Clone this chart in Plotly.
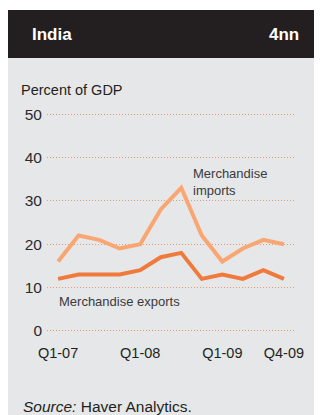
import plotly.graph_objects as go

quarters = ['Q1-07', 'Q2-07', 'Q3-07', 'Q4-07', 'Q1-08', 'Q2-08', 'Q3-08', 'Q4-08',
            'Q1-09', 'Q2-09', 'Q3-09', 'Q4-09']
imports = [16, 22, 21, 19, 20, 28, 33, 22, 16, 19, 21, 20]
exports = [12, 13, 13, 13, 14, 17, 18, 12, 13, 12, 14, 12]
tick_idx = [0, 4, 8, 11]
tick_text = ['Q1-07', 'Q1-08', 'Q1-09', 'Q4-09']

x = list(range(len(quarters)))

fig = go.Figure()
fig.add_trace(go.Scatter(x=x, y=imports, mode='lines', name='Merchandise imports',
                         line=dict(color='#F9A673', width=4), cliponaxis=False))
fig.add_trace(go.Scatter(x=x, y=exports, mode='lines', name='Merchandise exports',
                         line=dict(color='#EF7A3C', width=4), cliponaxis=False))

# page has an 8px body margin; plot area on the page spans px 47..295, 113..332
W, H = 248, 219
def px(p):
    return (p - 47) / W
def py(p):
    return (332 - p) / H

fig.add_shape(type='rect', xref='paper', yref='paper', layer='below',
              x0=px(6), x1=px(340), y0=py(58), y1=py(440),
              fillcolor='#E6E7E9', line_width=0)
fig.add_shape(type='rect', xref='paper', yref='paper', layer='below',
              x0=px(6), x1=px(340), y0=py(10), y1=py(58),
              fillcolor='#231F20', line_width=0)

fig.add_annotation(text='<b>India</b>', xref='paper', yref='paper', x=px(30), y=py(35),
                   xanchor='left', yanchor='middle', showarrow=False,
                   font=dict(size=17, color='white'))
fig.add_annotation(text='<b>4nn</b>', xref='paper', yref='paper', x=px(301), y=py(35),
                   xanchor='right', yanchor='middle', showarrow=False,
                   font=dict(size=17, color='white'))
fig.add_annotation(text='Percent of GDP', xref='paper', yref='paper', x=px(19), y=py(90),
                   xanchor='left', yanchor='middle', showarrow=False,
                   font=dict(size=14.5, color='#231F20'))
fig.add_annotation(text='Merchandise<br>imports', x=6.45, y=34.3,
                   xanchor='left', yanchor='middle', align='left', showarrow=False,
                   font=dict(size=13, color='#3A3A3A'))
fig.add_annotation(text='Merchandise exports', x=-0.05, y=6.7,
                   xanchor='left', yanchor='middle', showarrow=False,
                   font=dict(size=13, color='#3A3A3A'))
fig.add_annotation(text='<i>Source:</i> Haver Analytics.', xref='paper', yref='paper',
                   x=px(21), y=py(406), xanchor='left', yanchor='middle', showarrow=False,
                   font=dict(size=15.5, color='#231F20'))

fig.update_xaxes(range=[-0.54, 11.54], tickvals=tick_idx, ticktext=tick_text,
                 showgrid=False, zeroline=False, showline=False, ticks='',
                 ticklabelstandoff=10,
                 tickfont=dict(size=14.5, color='#231F20'))
fig.update_yaxes(range=[-0.25, 50.25], tickvals=[0, 10, 20, 30, 40, 50],
                 showgrid=True, gridcolor='#F09A6A', griddash='1px,2px', gridwidth=1,
                 zeroline=False, showline=False, ticks='', ticklabelstandoff=4,
                 tickfont=dict(size=15.5, color='#2A2A2A'))

fig.update_layout(width=314, height=407, margin=dict(l=39, r=27, t=105, b=83),
                  paper_bgcolor='white', plot_bgcolor='rgba(0,0,0,0)',
                  showlegend=False, font=dict(family='Liberation Sans'))

fig.write_html('out.html')
